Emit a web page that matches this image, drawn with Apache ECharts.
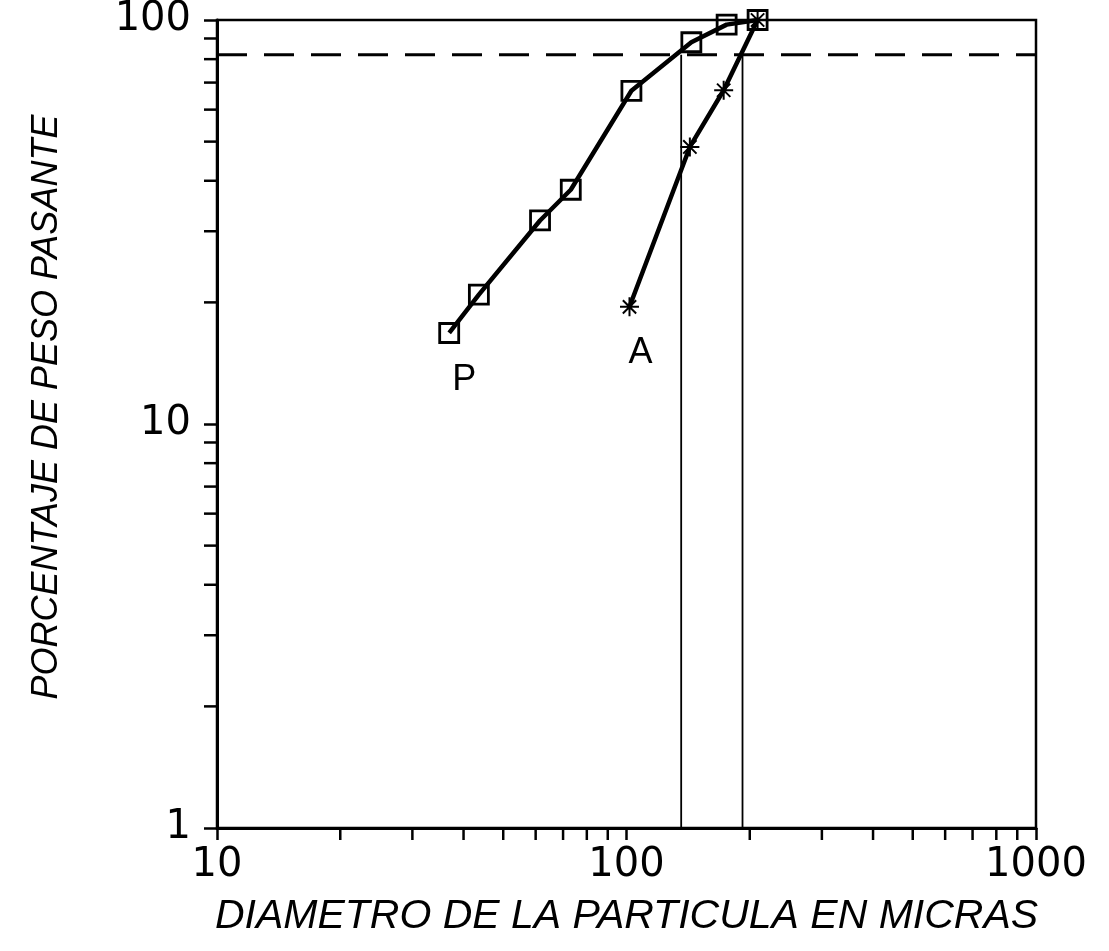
<!DOCTYPE html>
<html><head><meta charset="utf-8">
<script src="https://cdn.jsdelivr.net/npm/echarts@6/dist/echarts.min.js"></script>
<style>html,body{margin:0;padding:0;background:#fff}#c{width:1109px;height:951px}</style>
</head><body><div id="c"></div>
<script>
// Data
const pDiam = [36.9, 43.6, 61.5, 73.1, 102.8, 144, 175.6, 209];
const pPass = [16.8, 20.9, 31.9, 38.0, 66.8, 88.1, 97.4, 100];
const aDiam = [101.7, 142.8, 172.7, 209];
const aPass = [19.5, 48.5, 67.0, 100];
const cutLevel = 82;
const cutDiam = [136, 192];
const xMinorTicks = [20, 30, 40, 50, 60, 70, 80, 90, 200, 300, 400, 500, 600, 700, 800, 900];
const yMinorTicks = [2, 3, 4, 5, 6, 7, 8, 9, 20, 30, 40, 50, 60, 70, 80, 90];
const xRange = [10, 1000];
const yRange = [1, 100];
const seriesNames = ['P', 'A'];

const chart = echarts.init(document.getElementById('c'), null, {renderer: 'canvas'});
const FONT = 'Liberation Sans';
const NUMFONT = 'DejaVu Sans';

function tickSeries(values, dir) {
  return {
    type: 'custom',
    clip: false,
    silent: true,
    z: 1,
    data: values.map(v => dir === 'x' ? [v, yRange[0]] : [xRange[0], v]),
    renderItem: function (params, api) {
      const p = api.coord([api.value(0), api.value(1)]);
      const shape = dir === 'x'
        ? {x1: p[0], y1: p[1], x2: p[0], y2: p[1] + 12}
        : {x1: p[0], y1: p[1], x2: p[0] - 13, y2: p[1]};
      return {type: 'line', shape: shape, style: {stroke: '#000', lineWidth: 2.5}};
    }
  };
}

const option = {
  backgroundColor: '#fff',
  animation: false,
  grid: {left: 217, top: 15, width: 819, height: 813, show: true, borderColor: '#000', borderWidth: 2.5},
  xAxis: {
    type: 'log', logBase: 10, min: xRange[0], max: xRange[1],
    axisLine: {onZero: false, lineStyle: {color: '#000', width: 3}},
    axisTick: {show: true, length: 12, lineStyle: {color: '#000', width: 2.5}},
    axisLabel: {color: '#000', fontSize: 40, fontFamily: NUMFONT, margin: 18, formatter: v => String(Math.round(v))},
    splitLine: {show: false},
    name: 'DIAMETRO DE LA PARTICULA EN MICRAS',
    nameLocation: 'middle', nameGap: 68,
    nameTextStyle: {color: '#000', fontSize: 41, fontStyle: 'italic', fontFamily: FONT}
  },
  yAxis: {
    type: 'log', logBase: 10, min: yRange[0], max: yRange[1],
    axisLine: {onZero: false, lineStyle: {color: '#000', width: 3}},
    axisTick: {show: true, length: 13, lineStyle: {color: '#000', width: 2.5}},
    axisLabel: {color: '#000', fontSize: 40, fontFamily: NUMFONT, margin: 26, formatter: v => String(Math.round(v))},
    splitLine: {show: false},
    name: 'PORCENTAJE DE PESO PASANTE',
    nameLocation: 'middle', nameGap: 152,
    nameTextStyle: {color: '#000', fontSize: 36, fontStyle: 'italic', fontFamily: FONT, padding: [0, 0, 0, 34]}
  },
  series: [
    tickSeries(xMinorTicks, 'x'),
    tickSeries(yMinorTicks, 'y'),
    {
      type: 'line', silent: true, symbol: 'none', z: 2,
      data: [[xRange[0], cutLevel], [xRange[1], cutLevel]],
      lineStyle: {color: '#000', width: 3, type: [30, 17]}
    },
    {
      type: 'line', silent: true, symbol: 'none', z: 2,
      data: [[cutDiam[0], cutLevel], [cutDiam[0], yRange[0]]],
      lineStyle: {color: '#000', width: 1.8}
    },
    {
      type: 'line', silent: true, symbol: 'none', z: 2,
      data: [[cutDiam[1], cutLevel], [cutDiam[1], yRange[0]]],
      lineStyle: {color: '#000', width: 1.8}
    },
    {
      name: seriesNames[0], type: 'line', z: 3,
      symbol: 'rect', symbolSize: 19,
      itemStyle: {color: 'rgba(0,0,0,0)', borderColor: '#000', borderWidth: 2.8},
      lineStyle: {color: '#000', width: 4.5},
      data: pDiam.map((d, i) => i === 0
        ? {value: [d, pPass[i]], label: {show: true, formatter: seriesNames[0], position: 'inside', offset: [15, 47], color: '#000', fontSize: 36, fontFamily: FONT}}
        : [d, pPass[i]])
    },
    {
      name: seriesNames[1], type: 'line', z: 3,
      symbol: 'path://M0,5L10,5M5,0L5,10M1.5,1.5L8.5,8.5M1.5,8.5L8.5,1.5', symbolSize: 19,
      itemStyle: {color: 'rgba(0,0,0,0)', borderColor: '#000', borderWidth: 2},
      lineStyle: {color: '#000', width: 4.5},
      data: aDiam.map((d, i) => i === 0
        ? {value: [d, aPass[i]], label: {show: true, formatter: seriesNames[1], position: 'inside', offset: [11, 46], color: '#000', fontSize: 36, fontFamily: FONT}}
        : [d, aPass[i]])
    }
  ]
};
chart.setOption(option);
</script>
</body></html>
